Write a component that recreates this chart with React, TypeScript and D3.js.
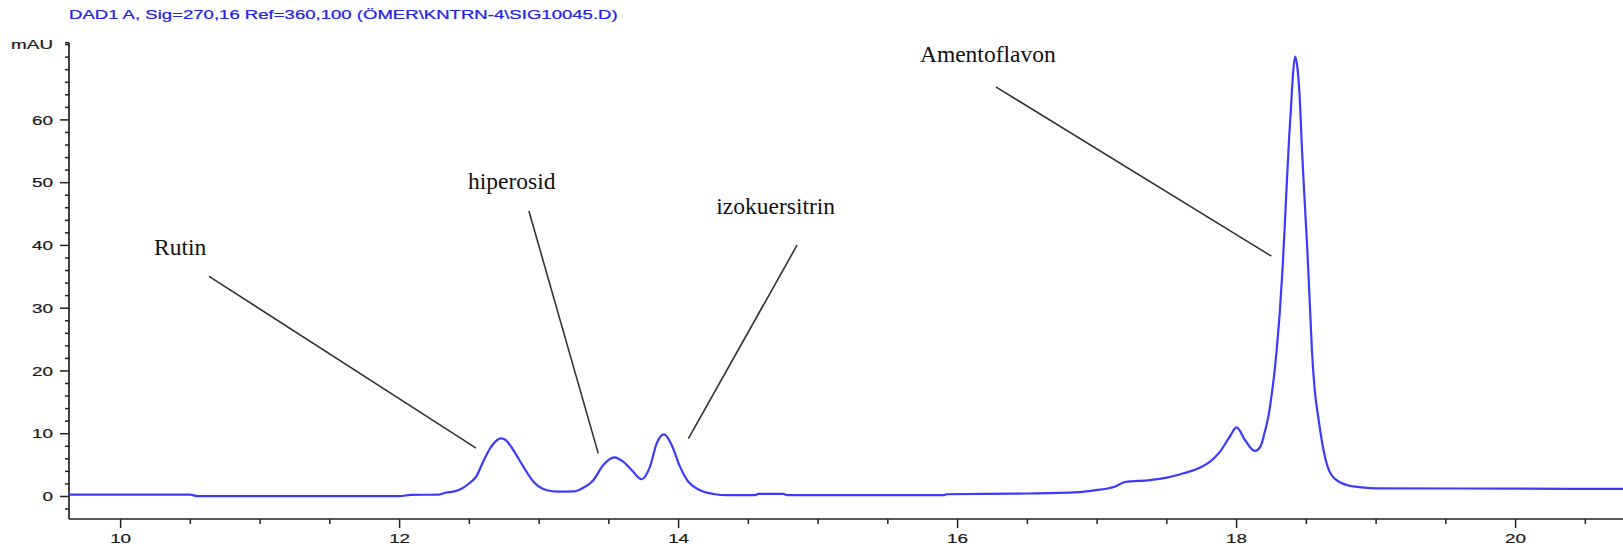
import React from "react";
import * as d3 from "d3";

const W = 1623;
const H = 554;

const TITLE = "DAD1 A, Sig=270,16 Ref=360,100 (ÖMER\\KNTRN-4\\SIG10045.D)";
const Y_UNIT = "mAU";

const times = [
  9.63, 10.5, 10.55, 12.0, 12.08, 12.28, 12.33, 12.4, 12.45, 12.5, 12.55, 12.6, 12.65, 12.7, 12.725,
  12.76, 12.815, 12.887, 12.96, 13.05, 13.13, 13.25, 13.3, 13.39, 13.46, 13.54, 13.6, 13.66, 13.735,
  13.795, 13.843, 13.896, 13.95, 14.01, 14.06, 14.15, 14.25, 14.35, 14.55, 14.57, 14.75, 14.78, 15.9,
  15.92, 16.44, 16.87, 16.99, 17.13, 17.2, 17.38, 17.5, 17.62, 17.74, 17.81, 17.88, 17.95, 18.0, 18.06,
  18.13, 18.17, 18.2, 18.23, 18.25, 18.27, 18.29, 18.31, 18.33, 18.345, 18.36, 18.375, 18.39, 18.405,
  18.42, 18.435, 18.45, 18.47, 18.49, 18.507, 18.526, 18.54, 18.56, 18.585, 18.61, 18.645, 18.69, 18.79,
  18.9, 19.0, 20.0, 20.77,
];
const absorbance = [
  0.3, 0.3, 0.05, 0.05, 0.25, 0.3, 0.6, 0.85, 1.3, 2.1, 3.2, 5.6, 7.7, 9.0, 9.27,
  9.0, 7.4, 4.75, 2.36, 1.03, 0.77, 0.8, 1.2, 2.63, 5.0, 6.24, 5.6, 4.3, 2.74,
  4.75, 8.47, 9.9, 8.2, 4.75, 2.63, 1.03, 0.4, 0.2, 0.2, 0.4, 0.4, 0.2, 0.2,
  0.35, 0.45, 0.7, 1.0, 1.6, 2.3, 2.6, 3.0, 3.7, 4.6, 5.55, 7.1, 9.5, 11.0, 9.0,
  7.25, 7.9, 10.1, 13.0, 16.0, 19.5, 24.0, 29.5, 36.5, 43.0, 50.0, 56.5, 62.0, 67.5,
  70.1, 68.5, 64.5, 54.7, 46.2, 39.3, 30.2, 23.3, 17.0, 12.7, 9.0, 5.3, 3.15, 1.83,
  1.45, 1.3, 1.25, 1.2,
];

const xMajorTicks = [10, 12, 14, 16, 18, 20];
const yMajorTicks = [0, 10, 20, 30, 40, 50, 60];

// annotations: label, label anchor (time, mAU), leader line start and end (time, mAU)
const annLabels = ["Rutin", "hiperosid", "izokuersitrin", "Amentoflavon"];
const annLabelT = [10.24, 12.49, 14.27, 15.73];
const annLabelV = [38.5, 49.0, 45.0, 69.2];
const annLineT0 = [10.634, 12.927, 14.849, 16.274];
const annLineV0 = [35.08, 45.47, 40.03, 65.26];
const annLineT1 = [12.548, 13.424, 14.07, 18.249];
const annLineV1 = [7.7, 6.87, 9.23, 38.3];

const X_DOMAIN: [number, number] = [9.63, 20.77];
const Y_DOMAIN: [number, number] = [-3.59, 72.3];

export default function App() {
  const x = d3.scaleLinear().domain(X_DOMAIN).range([69, 1623]);
  const y = d3.scaleLinear().domain(Y_DOMAIN).range([519, 42.7]);

  const pts: [number, number][] = times.map((t, i) => [t, absorbance[i]]);
  const line = d3
    .line<[number, number]>()
    .x((d) => x(d[0]))
    .y((d) => y(d[1]))
    .curve(d3.curveMonotoneX);

  const xMinor = d3.range(9.5, 20.8, 0.5).filter((t) => t >= X_DOMAIN[0] && !xMajorTicks.includes(t));
  const yMinor = d3.range(-2, 73, 2).filter((v) => v <= Y_DOMAIN[1] && !yMajorTicks.includes(v));

  const axisFont = "'Liberation Sans', Arial, sans-serif";
  const sx = 1.45;
  const fs = 13;
  const x0 = x(X_DOMAIN[0]);
  const yb = y(Y_DOMAIN[0]);

  return (
    <svg
      width={W}
      height={H}
      style={{ position: "absolute", left: 0, top: 0, background: "#fff" }}
      xmlns="http://www.w3.org/2000/svg"
    >
      <rect width={W} height={H} fill="#fff" />
      {/* title */}
      <g transform={`translate(69,19) scale(${sx},1)`}>
        <text x={0} y={0} fontFamily={axisFont} fontSize={12.8} fill="#2424e6" stroke="#2424e6" strokeWidth={0.25}>
          {TITLE}
        </text>
      </g>
      {/* unit */}
      <g transform={`translate(53,48.5) scale(${sx},1)`}>
        <text x={0} y={0} fontFamily={axisFont} fontSize={fs} fill="#1a1a1a" stroke="#1a1a1a" strokeWidth={0.2} textAnchor="end">
          {Y_UNIT}
        </text>
      </g>

      {/* y axis */}
      <line x1={x0} x2={x0} y1={y(Y_DOMAIN[1])} y2={yb} stroke="#222" strokeWidth={1.7} />
      <line x1={x0 - 4} x2={x0} y1={y(Y_DOMAIN[1])} y2={y(Y_DOMAIN[1])} stroke="#222" strokeWidth={1.5} />
      {yMinor.map((v) => (
        <line key={"ym" + v} x1={x0 - 4} x2={x0} y1={y(v)} y2={y(v)} stroke="#222" strokeWidth={1.5} />
      ))}
      {yMajorTicks.map((v) => (
        <g key={"yM" + v}>
          <line x1={x0 - 9} x2={x0} y1={y(v)} y2={y(v)} stroke="#222" strokeWidth={1.5} />
          <g transform={`translate(${x0 - 16},${y(v) + 4.7}) scale(${sx},1)`}>
            <text x={0} y={0} fontFamily={axisFont} fontSize={fs} fill="#1a1a1a" stroke="#1a1a1a" strokeWidth={0.2} textAnchor="end">
              {v}
            </text>
          </g>
        </g>
      ))}

      {/* x axis */}
      <line x1={x0} x2={W} y1={yb} y2={yb} stroke="#222" strokeWidth={1.7} />
      {xMinor.map((t) => (
        <line key={"xm" + t} x1={x(t)} x2={x(t)} y1={yb} y2={yb + 5} stroke="#222" strokeWidth={1.5} />
      ))}
      {xMajorTicks.map((t) => (
        <g key={"xM" + t}>
          <line x1={x(t)} x2={x(t)} y1={yb} y2={yb + 9} stroke="#222" strokeWidth={1.5} />
          <g transform={`translate(${x(t)},${yb + 24}) scale(${sx},1)`}>
            <text x={0} y={0} fontFamily={axisFont} fontSize={fs} fill="#1a1a1a" stroke="#1a1a1a" strokeWidth={0.2} textAnchor="middle">
              {t}
            </text>
          </g>
        </g>
      ))}

      {/* signal */}
      <path d={line(pts) || ""} fill="none" stroke="#3b3bff" strokeWidth={2.2} strokeLinejoin="round" />

      {/* annotations */}
      {annLabels.map((lab, i) => (
        <g key={lab}>
          <line
            x1={x(annLineT0[i])}
            y1={y(annLineV0[i])}
            x2={x(annLineT1[i])}
            y2={y(annLineV1[i])}
            stroke="#333"
            strokeWidth={1.6}
          />
          <text
            x={x(annLabelT[i])}
            y={y(annLabelV[i])}
            fontFamily="'Liberation Serif', 'Times New Roman', serif"
            fontSize={23.5}
            fill="#111"
          >
            {lab}
          </text>
        </g>
      ))}
    </svg>
  );
}
